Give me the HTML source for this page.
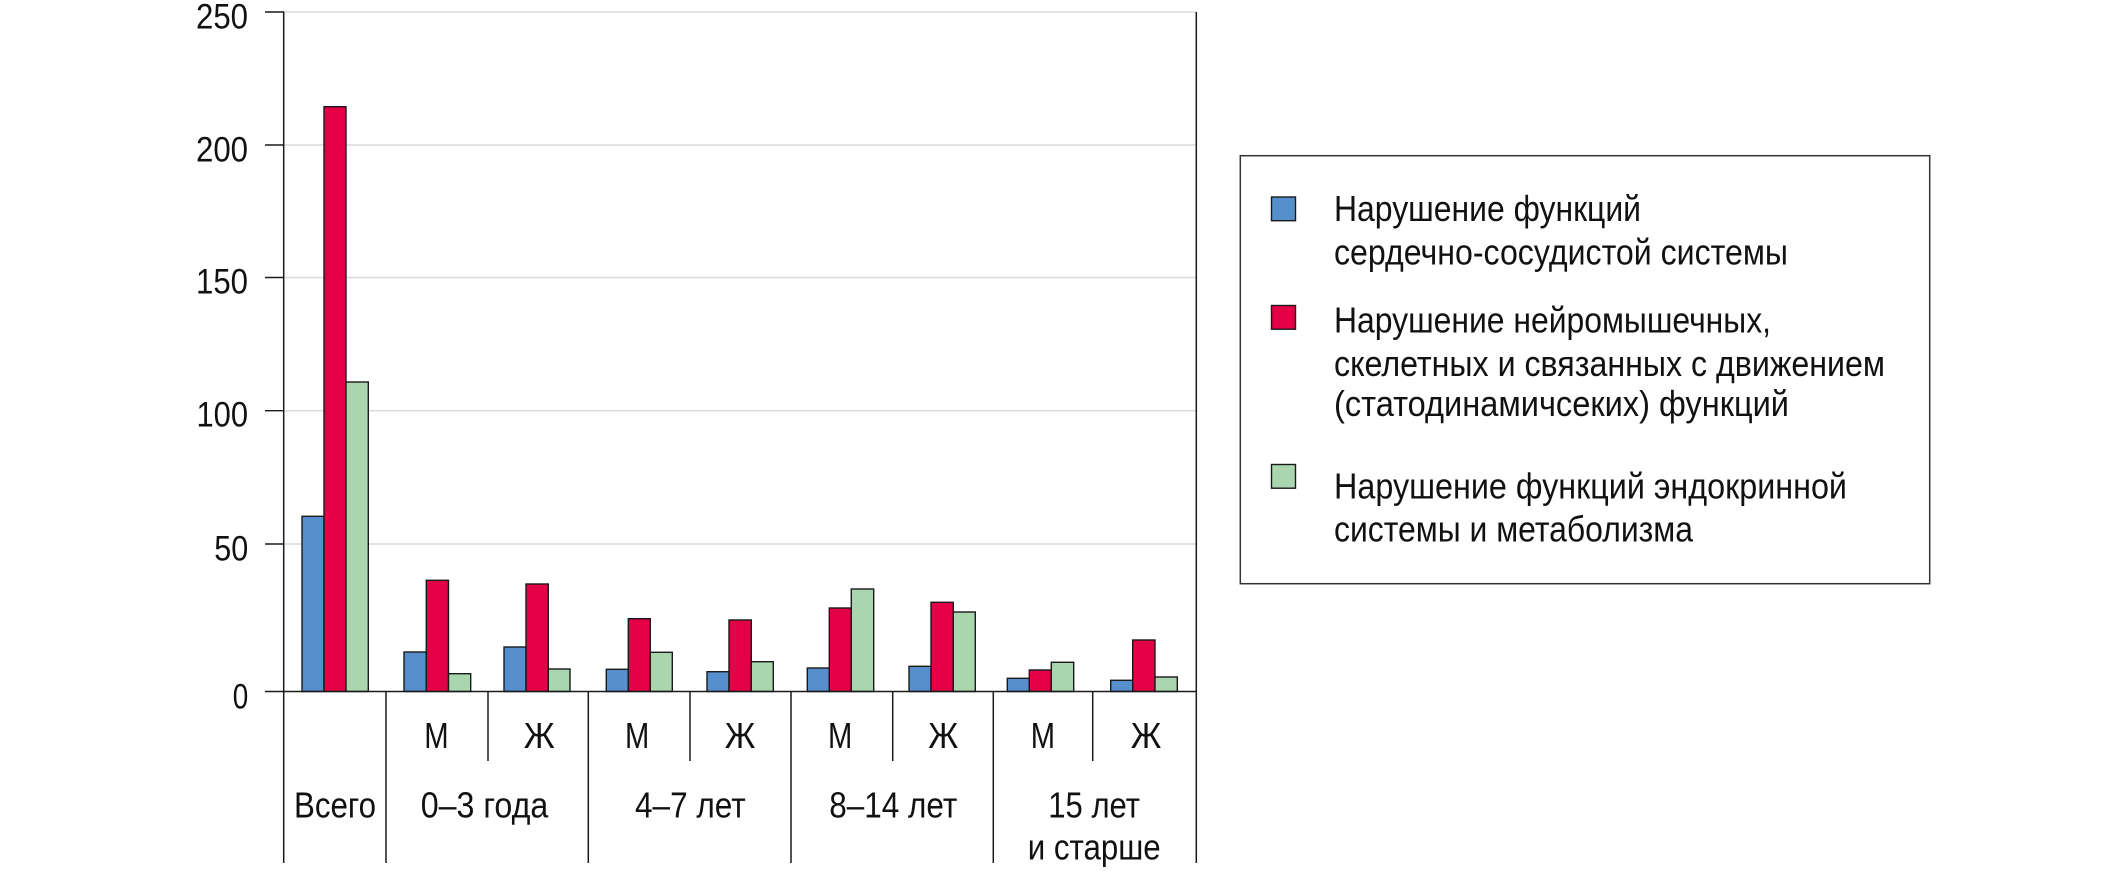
<!DOCTYPE html>
<html><head><meta charset="utf-8">
<style>
html,body{margin:0;padding:0;background:#fff;}
svg{display:block;}
text{font-family:"Liberation Sans Narrow","Liberation Sans","Noto Sans CJK SC",sans-serif;fill:#111;}
</style></head>
<body>
<svg width="2126" height="871" viewBox="0 0 2126 871" xmlns="http://www.w3.org/2000/svg">
<rect width="2126" height="871" fill="#fff"/>
<!-- gridlines -->
<g stroke="#d9d9d9" stroke-width="1.4">
<line x1="284" y1="12" x2="1196" y2="12"/>
<line x1="284" y1="145" x2="1196" y2="145"/>
<line x1="284" y1="277.5" x2="1196" y2="277.5"/>
<line x1="284" y1="410.7" x2="1196" y2="410.7"/>
<line x1="284" y1="544" x2="1196" y2="544"/>
</g>
<!-- ticks -->
<g stroke="#1a1a1a" stroke-width="1.4">
<line x1="265" y1="12" x2="284" y2="12"/>
<line x1="265" y1="145" x2="284" y2="145"/>
<line x1="265" y1="277.5" x2="284" y2="277.5"/>
<line x1="265" y1="410.7" x2="284" y2="410.7"/>
<line x1="265" y1="544" x2="284" y2="544"/>
</g>
<!-- bars -->
<g stroke="#1a1a1a" stroke-width="1.4">
<rect x="302" y="516.3" width="22" height="175.2" fill="#5690CC"/>
<rect x="324" y="106.7" width="22" height="584.8" fill="#E30046"/>
<rect x="346" y="382" width="22.3" height="309.5" fill="#A9D5AF"/>

<rect x="404" y="652" width="22.3" height="39.5" fill="#5690CC"/>
<rect x="426.3" y="580.3" width="22.2" height="111.2" fill="#E30046"/>
<rect x="448.5" y="673.7" width="22.2" height="17.8" fill="#A9D5AF"/>

<rect x="504" y="647" width="22" height="44.5" fill="#5690CC"/>
<rect x="526" y="584" width="22.3" height="107.5" fill="#E30046"/>
<rect x="548.3" y="669" width="21.7" height="22.5" fill="#A9D5AF"/>

<rect x="606.3" y="669.3" width="22" height="22.2" fill="#5690CC"/>
<rect x="628.3" y="618.7" width="22" height="72.8" fill="#E30046"/>
<rect x="650.3" y="652.3" width="22" height="39.2" fill="#A9D5AF"/>

<rect x="707" y="671.7" width="22" height="19.8" fill="#5690CC"/>
<rect x="729" y="620" width="22.3" height="71.5" fill="#E30046"/>
<rect x="751.3" y="661.7" width="22" height="29.8" fill="#A9D5AF"/>

<rect x="807.3" y="668" width="22" height="23.5" fill="#5690CC"/>
<rect x="829.3" y="608" width="22" height="83.5" fill="#E30046"/>
<rect x="851.3" y="589" width="22.4" height="102.5" fill="#A9D5AF"/>

<rect x="909" y="666.3" width="22" height="25.2" fill="#5690CC"/>
<rect x="931" y="602.3" width="22.3" height="89.2" fill="#E30046"/>
<rect x="953.3" y="612" width="22" height="79.5" fill="#A9D5AF"/>

<rect x="1007.3" y="678.3" width="22" height="13.2" fill="#5690CC"/>
<rect x="1029.3" y="670" width="22" height="21.5" fill="#E30046"/>
<rect x="1051.3" y="662.3" width="22.4" height="29.2" fill="#A9D5AF"/>

<rect x="1110.7" y="680.3" width="22" height="11.2" fill="#5690CC"/>
<rect x="1132.7" y="640" width="22.3" height="51.5" fill="#E30046"/>
<rect x="1155" y="677" width="22.3" height="14.5" fill="#A9D5AF"/>
</g>
<!-- axes and separators -->
<g stroke="#1a1a1a" stroke-width="1.5">
<line x1="265" y1="691.5" x2="1196.3" y2="691.5"/>
<line x1="283.7" y1="12" x2="283.7" y2="863"/>
<line x1="1196.3" y1="12" x2="1196.3" y2="863"/>
<line x1="386" y1="691.5" x2="386" y2="863"/>
<line x1="588.3" y1="691.5" x2="588.3" y2="863"/>
<line x1="791" y1="691.5" x2="791" y2="863"/>
<line x1="993.3" y1="691.5" x2="993.3" y2="863"/>
<line x1="488" y1="691.5" x2="488" y2="761"/>
<line x1="690" y1="691.5" x2="690" y2="761"/>
<line x1="892.7" y1="691.5" x2="892.7" y2="761"/>
<line x1="1092.7" y1="691.5" x2="1092.7" y2="761"/>
</g>
<!-- y labels -->
<g font-size="35.5">
<text x="196" y="28.3" textLength="52" lengthAdjust="spacingAndGlyphs">250</text>
<text x="196" y="161.7" textLength="52" lengthAdjust="spacingAndGlyphs">200</text>
<text x="196" y="293.3" textLength="52" lengthAdjust="spacingAndGlyphs">150</text>
<text x="196.5" y="426.7" textLength="51.5" lengthAdjust="spacingAndGlyphs">100</text>
<text x="214.3" y="560.3" textLength="34" lengthAdjust="spacingAndGlyphs">50</text>
<text x="232.7" y="708.3" textLength="15.5" lengthAdjust="spacingAndGlyphs">0</text>
</g>
<!-- x labels -->
<g font-size="36">
<text x="424.3" y="748" textLength="24.4" lengthAdjust="spacingAndGlyphs">М</text>
<text x="523.7" y="748" textLength="31" lengthAdjust="spacingAndGlyphs">Ж</text>
<text x="625" y="748" textLength="24.3" lengthAdjust="spacingAndGlyphs">М</text>
<text x="724.7" y="748" textLength="30.6" lengthAdjust="spacingAndGlyphs">Ж</text>
<text x="828" y="748" textLength="24.3" lengthAdjust="spacingAndGlyphs">М</text>
<text x="928.3" y="748" textLength="30" lengthAdjust="spacingAndGlyphs">Ж</text>
<text x="1030.7" y="748" textLength="24.3" lengthAdjust="spacingAndGlyphs">М</text>
<text x="1130.7" y="748" textLength="30.6" lengthAdjust="spacingAndGlyphs">Ж</text>

<text x="294" y="817.7" textLength="82" lengthAdjust="spacingAndGlyphs">Всего</text>
<text x="420.7" y="817.7" textLength="127.6" lengthAdjust="spacingAndGlyphs">0–3 года</text>
<text x="635" y="817.7" textLength="110.7" lengthAdjust="spacingAndGlyphs">4–7 лет</text>
<text x="829.3" y="817.7" textLength="128" lengthAdjust="spacingAndGlyphs">8–14 лет</text>
<text x="1048.3" y="817.7" textLength="91.7" lengthAdjust="spacingAndGlyphs">15 лет</text>
<text x="1027.7" y="859.3" textLength="133" lengthAdjust="spacingAndGlyphs">и старше</text>
</g>
<!-- legend -->
<rect x="1240.3" y="155.7" width="689.4" height="428" fill="none" stroke="#333" stroke-width="1.5"/>
<g stroke="#1a1a1a" stroke-width="1.4">
<rect x="1271.5" y="197" width="24" height="23.7" fill="#5690CC"/>
<rect x="1271.5" y="305.5" width="24" height="23.7" fill="#E30046"/>
<rect x="1271.5" y="464.5" width="24" height="23.7" fill="#A9D5AF"/>
</g>
<g font-size="36">
<text x="1334" y="221" textLength="307" lengthAdjust="spacingAndGlyphs">Нарушение функций</text>
<text x="1334" y="264.3" textLength="454" lengthAdjust="spacingAndGlyphs">сердечно-сосудистой системы</text>
<text x="1334" y="332.7" textLength="437" lengthAdjust="spacingAndGlyphs">Нарушение нейромышечных,</text>
<text x="1334" y="376" textLength="551" lengthAdjust="spacingAndGlyphs">скелетных и связанных с движением</text>
<text x="1334" y="416" textLength="455" lengthAdjust="spacingAndGlyphs">(статодинамичсеких) функций</text>
<text x="1334" y="498.3" textLength="513" lengthAdjust="spacingAndGlyphs">Нарушение функций эндокринной</text>
<text x="1334" y="541.7" textLength="359" lengthAdjust="spacingAndGlyphs">системы и метаболизма</text>
</g>
</svg>
</body></html>
